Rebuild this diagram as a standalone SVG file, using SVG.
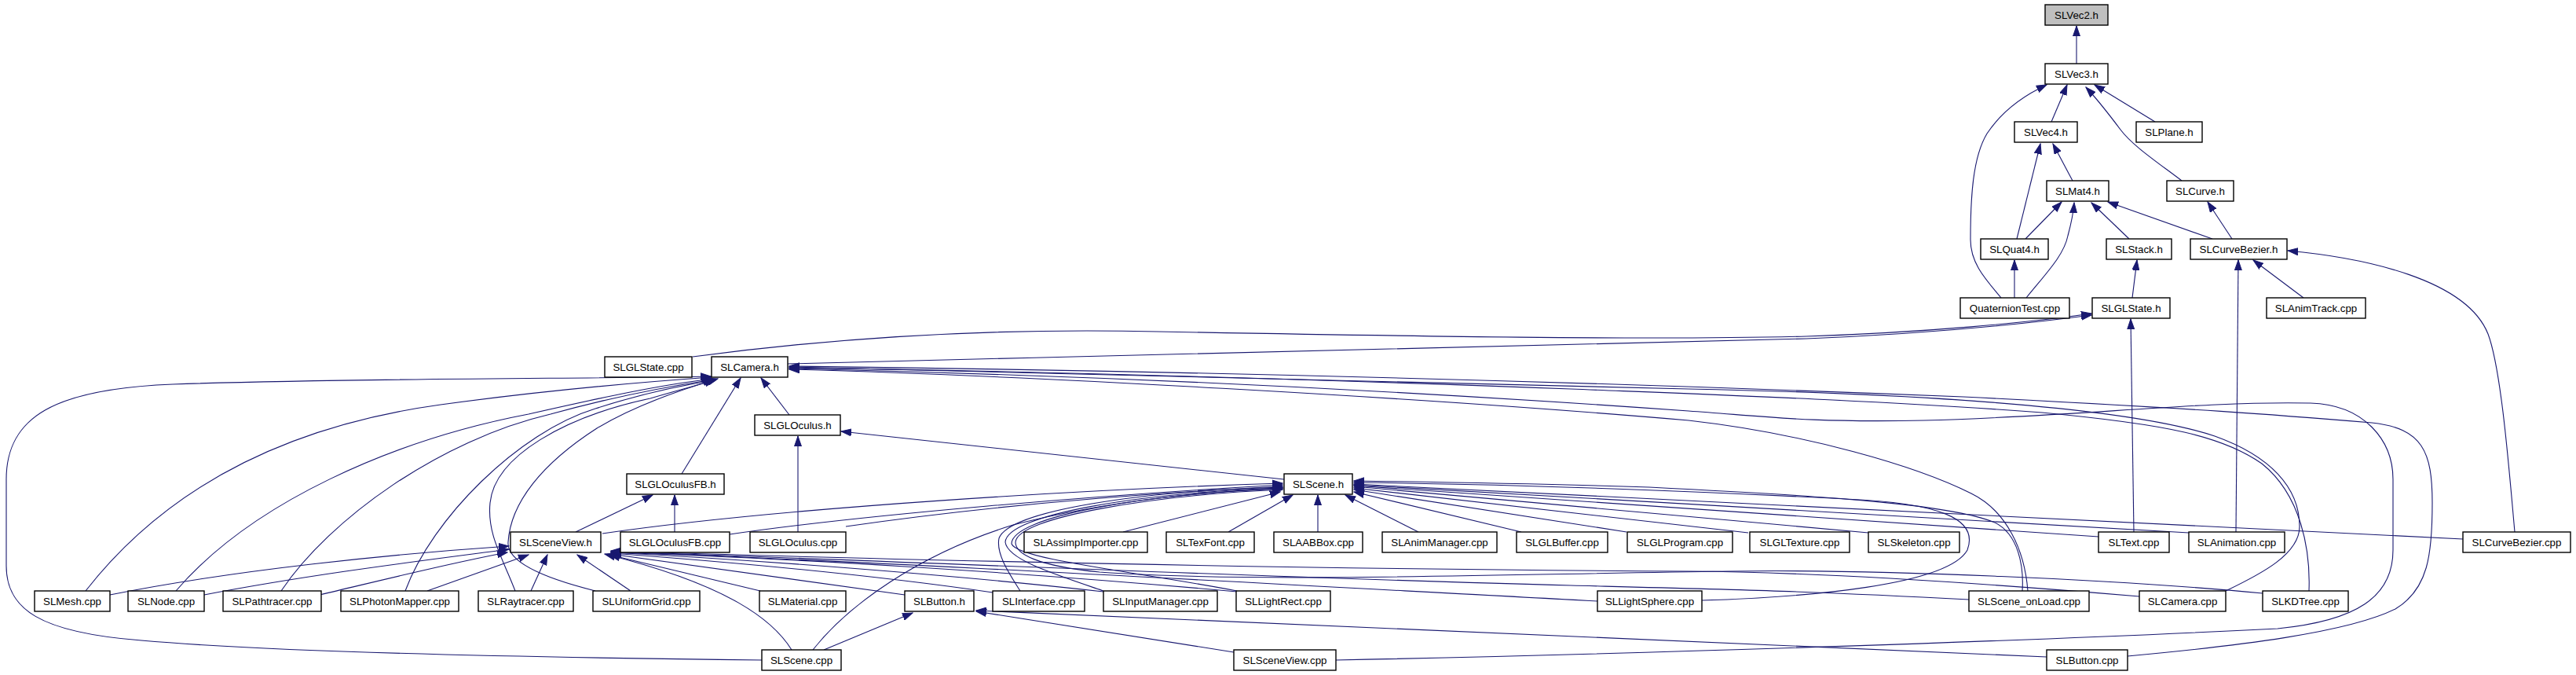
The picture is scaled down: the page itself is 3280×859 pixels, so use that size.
<svg xmlns="http://www.w3.org/2000/svg" width="3280" height="859" viewBox="0 0 3280 859">
<defs>
<style>
.node rect{fill:#ffffff;stroke:#000000;stroke-width:1.4}
.node.root rect{fill:#bfbfbf}
.node text{font-family:"Liberation Sans",Arial,Helvetica,sans-serif;font-size:13.3px;fill:#000000;text-anchor:middle}
#edges path{fill:none;stroke:#191970;stroke-width:1.1;marker-end:url(#ah)}
</style>
<marker id="ah" markerUnits="userSpaceOnUse" markerWidth="14" markerHeight="10" refX="13" refY="5" orient="auto">
<path d="M0,0.5 L13,5 L0,9.5 z" fill="#191970" stroke="#191970" stroke-width="1"/>
</marker>
</defs>
<rect width="3280" height="859" fill="#ffffff"/>
<g id="edges">
<path d="M2644,81 L2644,33"/>
<path d="M2612,155 L2632,108"/>
<path d="M2744,155 L2667,108"/>
<path d="M2778,230 C2745,205 2715,185 2700,165 C2685,145 2672,128 2656,111"/>
<path d="M2548,379 C2528,355 2509,335 2509,305 C2509,250 2512,200 2530,170 C2550,140 2580,120 2606,108"/>
<path d="M2639,230 L2614,183"/>
<path d="M2568,304 L2598,183"/>
<path d="M2579,304 L2625,257"/>
<path d="M2580,379 C2605,348 2628,325 2633,300 C2637,285 2640,272 2641,258"/>
<path d="M2711,304 L2663,258"/>
<path d="M2817,304 L2684,257"/>
<path d="M2842,304 L2811,257"/>
<path d="M2565,379 L2565,331"/>
<path d="M2715,379 L2721,331"/>
<path d="M2933,379 L2869,331"/>
<path d="M2847,677 L2850,331"/>
<path d="M3202,677 C3195,600 3185,470 3168,425 C3140,355 3010,328 2913,319"/>
<path d="M2717,677 L2713,406"/>
<path d="M882,454 C1100,425 1300,418 1474,422 C1800,428 2100,433 2300,428 C2450,423 2580,411 2663,399"/>
<path d="M1003,463 C1500,450 2100,438 2300,431 C2450,425 2580,412 2663,401"/>
<path d="M1005,528 L969,481"/>
<path d="M868,603 L943,481"/>
<path d="M970,840 C700,837 350,830 180,815 C50,805 8,775 8,720 L8,610 C8,530 70,495 220,489 C450,481 750,482 905,479"/>
<path d="M109,752 C220,610 380,540 561,515 C700,496 820,486 906,480"/>
<path d="M224,752 C320,640 500,560 673,527 C770,505 840,490 907,482"/>
<path d="M358,752 C420,660 560,560 701,527 C780,505 850,492 908,483"/>
<path d="M516,752 C550,660 660,550 758,520 C820,500 870,490 909,484"/>
<path d="M656,752 C640,710 620,680 624,640 C630,580 720,530 828,507 C860,498 890,489 911,484"/>
<path d="M758,752 C690,735 645,715 647,690 C650,640 690,590 760,545 C810,515 870,495 914,482"/>
<path d="M2709,835 C2850,822 2990,805 3050,775 C3092,750 3097,705 3097,640 C3097,575 3085,545 3020,538 C2900,528 2800,520 2500,505 C2000,485 1500,472 1005,466"/>
<path d="M2834,752 C2880,730 2928,705 2928,670 C2928,620 2890,580 2820,555 C2700,515 2400,500 2150,495 C1700,482 1300,472 1005,467"/>
<path d="M2940,752 C2942,700 2930,630 2880,590 C2830,555 2760,540 2600,525 C2400,510 2200,503 2000,495 C1600,480 1300,472 1005,468"/>
<path d="M1701,840 C2100,832 2600,815 2900,800 C3000,790 3047,760 3047,700 L3047,610 C3047,560 3010,515 2942,513 C2800,510 2650,530 2450,535 C2300,538 2250,530 2150,523 C1800,498 1400,478 1005,469"/>
<path d="M2582,752 C2578,700 2555,650 2510,628 C2440,593 2300,552 2150,535 C1800,505 1300,478 1005,470"/>
<path d="M1016,677 L1016,555"/>
<path d="M1635,610 L1071,549"/>
<path d="M733,677 L831,630"/>
<path d="M859,677 L859,630"/>
<path d="M767,679 C1000,645 1400,622 1633,615"/>
<path d="M929,680 C1100,655 1400,630 1633,617"/>
<path d="M1077,670 C1250,645 1450,628 1633,619"/>
<path d="M1430,677 L1630,626"/>
<path d="M1564,677 L1646,630"/>
<path d="M1678,677 L1678,630"/>
<path d="M1035,827 C1080,770 1170,705 1290,668 C1420,635 1540,626 1633,621"/>
<path d="M1299,752 C1285,730 1268,705 1272,685 C1285,650 1450,625 1633,620"/>
<path d="M1405,752 C1340,730 1283,712 1280,690 C1282,655 1450,627 1633,621"/>
<path d="M1575,752 C1450,728 1295,712 1288,692 C1288,657 1460,628 1633,622"/>
<path d="M2881,755 C2700,738 2400,724 2200,727 C1900,731 1600,742 1400,728 C1320,720 1293,705 1293,690 C1295,658 1470,630 1633,623"/>
<path d="M1806,677 L1713,630"/>
<path d="M1937,677 L1724,626"/>
<path d="M2071,677 L1724,623"/>
<path d="M2226,678 L1724,621"/>
<path d="M2379,678 L1724,619"/>
<path d="M2672,683 L1724,618"/>
<path d="M2787,678 L1724,617"/>
<path d="M3136,686 L1724,616"/>
<path d="M2167,764 C2300,760 2480,745 2505,700 C2520,660 2470,640 2350,635 C2100,622 1900,616 1724,614"/>
<path d="M2575,752 C2577,720 2570,680 2540,665 C2480,640 2300,630 2100,620 C1950,615 1800,613 1724,612"/>
<path d="M140,757 C300,725 500,705 648,695"/>
<path d="M260,757 C400,730 550,712 648,699"/>
<path d="M407,757 C500,735 580,715 646,703"/>
<path d="M544,752 L673,706"/>
<path d="M676,752 L697,706"/>
<path d="M803,752 L735,706"/>
<path d="M1008,827 C985,790 930,745 770,705"/>
<path d="M968,752 L776,706"/>
<path d="M1152,757 L777,705"/>
<path d="M1264,754 C1100,730 900,713 778,704"/>
<path d="M1405,753 C1200,730 950,712 778,703"/>
<path d="M1575,753 C1300,728 1000,710 778,703"/>
<path d="M2034,765 C1600,742 1100,714 778,702"/>
<path d="M2507,763 C2300,752 2200,750 2000,745 C1600,735 1100,712 778,702"/>
<path d="M2724,759 C2500,740 2300,728 2150,727 C1700,725 1100,712 778,701"/>
<path d="M1049,827 L1162,780"/>
<path d="M1571,830 L1243,778"/>
<path d="M2606,836 L1243,777"/>
</g>
<g id="n_SLVec2_h" class="node root"><rect x="2604" y="6" width="80" height="26"/><text x="2644" y="23.5">SLVec2.h</text></g>
<g id="n_SLVec3_h" class="node"><rect x="2604" y="81" width="80" height="26"/><text x="2644" y="98.5">SLVec3.h</text></g>
<g id="n_SLVec4_h" class="node"><rect x="2565" y="155" width="80" height="26"/><text x="2605" y="172.5">SLVec4.h</text></g>
<g id="n_SLPlane_h" class="node"><rect x="2720" y="155" width="84" height="26"/><text x="2762" y="172.5">SLPlane.h</text></g>
<g id="n_SLMat4_h" class="node"><rect x="2606" y="230" width="79" height="26"/><text x="2645.5" y="247.5">SLMat4.h</text></g>
<g id="n_SLCurve_h" class="node"><rect x="2759" y="230" width="85" height="26"/><text x="2801.5" y="247.5">SLCurve.h</text></g>
<g id="n_SLQuat4_h" class="node"><rect x="2522" y="304" width="86" height="26"/><text x="2565" y="321.5">SLQuat4.h</text></g>
<g id="n_SLStack_h" class="node"><rect x="2682" y="304" width="83" height="26"/><text x="2723.5" y="321.5">SLStack.h</text></g>
<g id="n_SLCurveBezier_h" class="node"><rect x="2789" y="304" width="123" height="26"/><text x="2850.5" y="321.5">SLCurveBezier.h</text></g>
<g id="n_QuaternionTest_cpp" class="node"><rect x="2496" y="379" width="139" height="26"/><text x="2565.5" y="396.5">QuaternionTest.cpp</text></g>
<g id="n_SLGLState_h" class="node"><rect x="2664" y="379" width="99" height="26"/><text x="2713.5" y="396.5">SLGLState.h</text></g>
<g id="n_SLAnimTrack_cpp" class="node"><rect x="2886" y="379" width="126" height="26"/><text x="2949" y="396.5">SLAnimTrack.cpp</text></g>
<g id="n_SLGLState_cpp" class="node"><rect x="770" y="454" width="111" height="26"/><text x="825.5" y="471.5">SLGLState.cpp</text></g>
<g id="n_SLCamera_h" class="node"><rect x="906" y="454" width="97" height="26"/><text x="954.5" y="471.5">SLCamera.h</text></g>
<g id="n_SLGLOculus_h" class="node"><rect x="961" y="528" width="109" height="26"/><text x="1015.5" y="545.5">SLGLOculus.h</text></g>
<g id="n_SLGLOculusFB_h" class="node"><rect x="798" y="603" width="124" height="26"/><text x="860" y="620.5">SLGLOculusFB.h</text></g>
<g id="n_SLScene_h" class="node"><rect x="1635" y="603" width="87" height="26"/><text x="1678.5" y="620.5">SLScene.h</text></g>
<g id="n_SLSceneView_h" class="node"><rect x="650" y="677" width="115" height="26"/><text x="707.5" y="694.5">SLSceneView.h</text></g>
<g id="n_SLGLOculusFB_cpp" class="node"><rect x="790" y="677" width="139" height="26"/><text x="859.5" y="694.5">SLGLOculusFB.cpp</text></g>
<g id="n_SLGLOculus_cpp" class="node"><rect x="955" y="677" width="122" height="26"/><text x="1016" y="694.5">SLGLOculus.cpp</text></g>
<g id="n_SLAssimpImporter_cpp" class="node"><rect x="1304" y="677" width="157" height="26"/><text x="1382.5" y="694.5">SLAssimpImporter.cpp</text></g>
<g id="n_SLTexFont_cpp" class="node"><rect x="1485" y="677" width="112" height="26"/><text x="1541" y="694.5">SLTexFont.cpp</text></g>
<g id="n_SLAABBox_cpp" class="node"><rect x="1622" y="677" width="113" height="26"/><text x="1678.5" y="694.5">SLAABBox.cpp</text></g>
<g id="n_SLAnimManager_cpp" class="node"><rect x="1760" y="677" width="146" height="26"/><text x="1833" y="694.5">SLAnimManager.cpp</text></g>
<g id="n_SLGLBuffer_cpp" class="node"><rect x="1931" y="677" width="116" height="26"/><text x="1989" y="694.5">SLGLBuffer.cpp</text></g>
<g id="n_SLGLProgram_cpp" class="node"><rect x="2072" y="677" width="134" height="26"/><text x="2139" y="694.5">SLGLProgram.cpp</text></g>
<g id="n_SLGLTexture_cpp" class="node"><rect x="2228" y="677" width="127" height="26"/><text x="2291.5" y="694.5">SLGLTexture.cpp</text></g>
<g id="n_SLSkeleton_cpp" class="node"><rect x="2379" y="677" width="116" height="26"/><text x="2437" y="694.5">SLSkeleton.cpp</text></g>
<g id="n_SLText_cpp" class="node"><rect x="2672" y="677" width="90" height="26"/><text x="2717" y="694.5">SLText.cpp</text></g>
<g id="n_SLAnimation_cpp" class="node"><rect x="2787" y="677" width="122" height="26"/><text x="2848" y="694.5">SLAnimation.cpp</text></g>
<g id="n_SLCurveBezier_cpp" class="node"><rect x="3136" y="677" width="137" height="26"/><text x="3204.5" y="694.5">SLCurveBezier.cpp</text></g>
<g id="n_SLMesh_cpp" class="node"><rect x="44" y="752" width="96" height="26"/><text x="92" y="769.5">SLMesh.cpp</text></g>
<g id="n_SLNode_cpp" class="node"><rect x="163" y="752" width="97" height="26"/><text x="211.5" y="769.5">SLNode.cpp</text></g>
<g id="n_SLPathtracer_cpp" class="node"><rect x="284" y="752" width="125" height="26"/><text x="346.5" y="769.5">SLPathtracer.cpp</text></g>
<g id="n_SLPhotonMapper_cpp" class="node"><rect x="434" y="752" width="150" height="26"/><text x="509" y="769.5">SLPhotonMapper.cpp</text></g>
<g id="n_SLRaytracer_cpp" class="node"><rect x="609" y="752" width="121" height="26"/><text x="669.5" y="769.5">SLRaytracer.cpp</text></g>
<g id="n_SLUniformGrid_cpp" class="node"><rect x="755" y="752" width="136" height="26"/><text x="823" y="769.5">SLUniformGrid.cpp</text></g>
<g id="n_SLMaterial_cpp" class="node"><rect x="967" y="752" width="110" height="26"/><text x="1022" y="769.5">SLMaterial.cpp</text></g>
<g id="n_SLButton_h" class="node"><rect x="1152" y="752" width="88" height="26"/><text x="1196" y="769.5">SLButton.h</text></g>
<g id="n_SLInterface_cpp" class="node"><rect x="1264" y="752" width="117" height="26"/><text x="1322.5" y="769.5">SLInterface.cpp</text></g>
<g id="n_SLInputManager_cpp" class="node"><rect x="1405" y="752" width="145" height="26"/><text x="1477.5" y="769.5">SLInputManager.cpp</text></g>
<g id="n_SLLightRect_cpp" class="node"><rect x="1574" y="752" width="120" height="26"/><text x="1634" y="769.5">SLLightRect.cpp</text></g>
<g id="n_SLLightSphere_cpp" class="node"><rect x="2034" y="752" width="133" height="26"/><text x="2100.5" y="769.5">SLLightSphere.cpp</text></g>
<g id="n_SLScene_onLoad_cpp" class="node"><rect x="2507" y="752" width="153" height="26"/><text x="2583.5" y="769.5">SLScene_onLoad.cpp</text></g>
<g id="n_SLCamera_cpp" class="node"><rect x="2724" y="752" width="110" height="26"/><text x="2779" y="769.5">SLCamera.cpp</text></g>
<g id="n_SLKDTree_cpp" class="node"><rect x="2881" y="752" width="109" height="26"/><text x="2935.5" y="769.5">SLKDTree.cpp</text></g>
<g id="n_SLScene_cpp" class="node"><rect x="970" y="827" width="101" height="26"/><text x="1020.5" y="844.5">SLScene.cpp</text></g>
<g id="n_SLSceneView_cpp" class="node"><rect x="1571" y="827" width="130" height="26"/><text x="1636" y="844.5">SLSceneView.cpp</text></g>
<g id="n_SLButton_cpp" class="node"><rect x="2606" y="827" width="103" height="26"/><text x="2657.5" y="844.5">SLButton.cpp</text></g>
</svg>
